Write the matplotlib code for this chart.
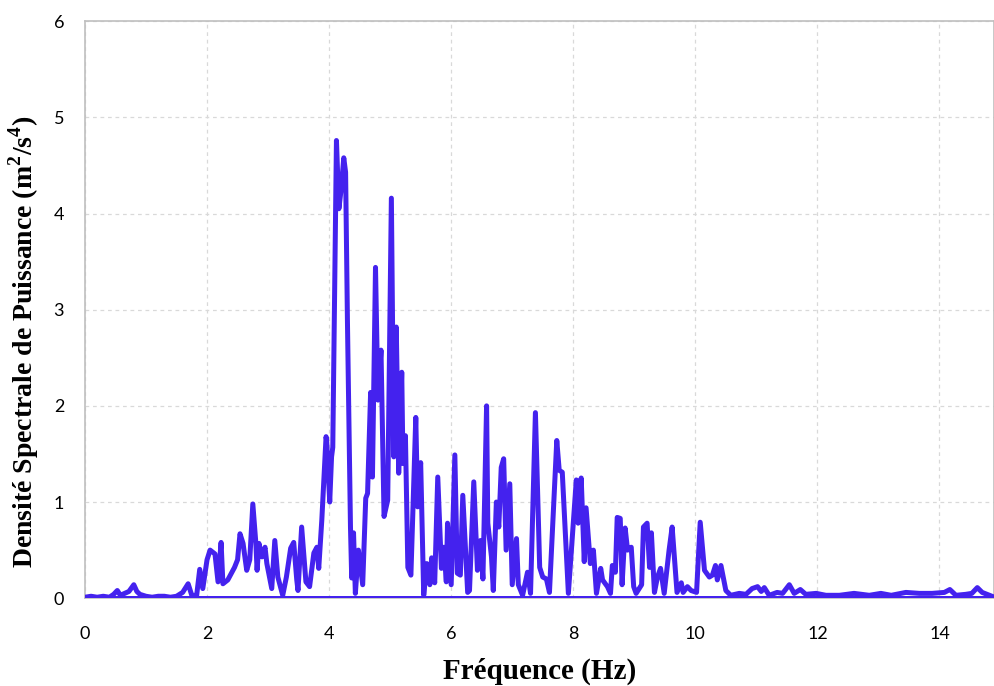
import matplotlib.pyplot as plt

plt.rcParams["mathtext.fontset"] = "custom"
plt.rcParams["mathtext.rm"] = "Liberation Serif:bold"

# spectrum (Hz, m2/s4)
freq = [
    0.00, 0.10, 0.20, 0.30, 0.40, 0.47, 0.53, 0.58, 0.65, 0.72, 0.80, 0.85, 0.90, 1.00,
    1.10, 1.20, 1.30, 1.40, 1.50, 1.60, 1.69, 1.75, 1.83, 1.88, 1.93, 2.00, 2.05, 2.13,
    2.18, 2.23, 2.26, 2.34, 2.45, 2.50, 2.54, 2.59, 2.65, 2.70, 2.75, 2.80, 2.82, 2.85,
    2.90, 2.95, 2.98, 3.06, 3.11, 3.16, 3.24, 3.30, 3.37, 3.42, 3.47, 3.49, 3.55, 3.62,
    3.68, 3.75, 3.80, 3.83, 3.88, 3.95, 3.96, 4.01, 4.04, 4.06, 4.12, 4.16, 4.20, 4.24,
    4.27, 4.30, 4.35, 4.37, 4.40, 4.43, 4.48, 4.55, 4.60, 4.63, 4.68, 4.71, 4.76, 4.80,
    4.85, 4.90, 4.96, 5.02, 5.06, 5.10, 5.14, 5.19, 5.21, 5.25, 5.29, 5.34, 5.42, 5.45,
    5.50, 5.55, 5.60, 5.65, 5.68, 5.73, 5.78, 5.84, 5.88, 5.92, 5.94, 6.00, 6.06, 6.10,
    6.15, 6.19, 6.27, 6.30, 6.37, 6.43, 6.48, 6.52, 6.58, 6.60, 6.66, 6.69, 6.74, 6.78,
    6.82, 6.86, 6.90, 6.96, 7.00, 7.07, 7.10, 7.17, 7.25, 7.30, 7.38, 7.45, 7.50, 7.56,
    7.61, 7.73, 7.77, 7.82, 7.92, 8.05, 8.08, 8.13, 8.18, 8.21, 8.28, 8.33, 8.38, 8.45,
    8.48, 8.56, 8.61, 8.64, 8.69, 8.72, 8.77, 8.80, 8.85, 8.89, 8.95, 8.99, 9.03, 9.12,
    9.15, 9.21, 9.25, 9.28, 9.33, 9.38, 9.43, 9.49, 9.57, 9.62, 9.67, 9.70, 9.77, 9.80,
    9.87, 9.93, 10.02, 10.08, 10.15, 10.23, 10.28, 10.33, 10.36, 10.42, 10.50, 10.58,
    10.72, 10.83, 10.93, 11.02, 11.08, 11.13, 11.21, 11.34, 11.43, 11.54, 11.62, 11.72,
    11.81, 11.98, 12.14, 12.36, 12.60, 12.85, 13.04, 13.21, 13.45, 13.67, 13.88, 14.08,
    14.17, 14.27, 14.43, 14.53, 14.62, 14.70, 14.78, 14.86,
]
psd = [
    0.01, 0.02, 0.01, 0.02, 0.01, 0.04, 0.08, 0.03, 0.05, 0.07, 0.14, 0.07, 0.04, 0.02,
    0.01, 0.02, 0.02, 0.01, 0.02, 0.06, 0.15, 0.03, 0.03, 0.30, 0.10, 0.40, 0.50, 0.46,
    0.17, 0.58, 0.15, 0.19, 0.32, 0.40, 0.67, 0.57, 0.29, 0.40, 0.98, 0.57, 0.29, 0.57,
    0.43, 0.53, 0.36, 0.10, 0.60, 0.22, 0.03, 0.22, 0.52, 0.58, 0.19, 0.08, 0.74, 0.17,
    0.12, 0.47, 0.53, 0.31, 0.81, 1.68, 1.64, 1.00, 1.47, 1.57, 4.76, 4.05, 4.27, 4.58,
    4.43, 2.89, 0.74, 0.21, 0.68, 0.05, 0.50, 0.14, 1.04, 1.09, 2.14, 1.26, 3.44, 2.06,
    2.58, 0.85, 1.02, 4.16, 1.47, 2.82, 1.30, 2.35, 1.40, 1.69, 0.32, 0.24, 1.88, 0.95,
    1.41, 0.03, 0.36, 0.14, 0.42, 0.16, 1.26, 0.31, 0.53, 0.17, 0.78, 0.14, 1.49, 0.26,
    0.24, 1.07, 0.06, 0.08, 1.21, 0.29, 0.60, 0.20, 2.00, 0.78, 0.43, 0.08, 1.00, 0.74,
    1.36, 1.45, 0.50, 1.19, 0.14, 0.62, 0.14, 0.03, 0.27, 0.05, 1.93, 0.32, 0.22, 0.20,
    0.06, 1.64, 1.33, 1.31, 0.05, 1.23, 0.78, 1.25, 0.38, 0.94, 0.36, 0.50, 0.05, 0.31,
    0.19, 0.12, 0.05, 0.34, 0.27, 0.84, 0.83, 0.14, 0.73, 0.50, 0.53, 0.12, 0.05, 0.14,
    0.74, 0.78, 0.32, 0.68, 0.06, 0.22, 0.31, 0.05, 0.50, 0.74, 0.31, 0.06, 0.16, 0.06,
    0.12, 0.08, 0.06, 0.79, 0.29, 0.22, 0.24, 0.34, 0.19, 0.34, 0.08, 0.03,
    0.05, 0.04, 0.10, 0.12, 0.07, 0.11, 0.03, 0.06, 0.05, 0.14, 0.05, 0.09,
    0.04, 0.05, 0.03, 0.03, 0.05, 0.03, 0.05, 0.03, 0.06, 0.05, 0.05, 0.06,
    0.09, 0.03, 0.04, 0.05, 0.11, 0.06, 0.04, 0.02,
]

x_ticks = [0, 2, 4, 6, 8, 10, 12, 14]
y_ticks = [0, 1, 2, 3, 4, 5, 6]

LINE_COLOR = "#4422EE"

fig = plt.figure(figsize=(9.95, 6.86), dpi=100)
ax = fig.add_axes([0.0854, 0.128, 0.914, 0.841])

ax.plot(freq, psd, color=LINE_COLOR, linewidth=3.6, solid_joinstyle="round", zorder=3)
ax.axhline(0, color=LINE_COLOR, linewidth=3.6, zorder=3)

ax.set_xlim(0, 14.9)
ax.set_ylim(0, 6)
ax.set_xticks(x_ticks)
ax.set_yticks(y_ticks)
ax.tick_params(length=0, labelsize=13)
ax.tick_params(axis="x", pad=20)
ax.tick_params(axis="y", pad=15)
for lab in ax.get_xticklabels() + ax.get_yticklabels():
    lab.set_fontfamily("Lato")

ax.grid(True, color="#D9D9D9", linestyle=(0, (3, 3)), linewidth=0.9)
ax.set_axisbelow(True)
for side in ["left", "top", "right", "bottom"]:
    ax.spines[side].set_color("#BFBFBF")
    ax.spines[side].set_linewidth(1.2)

ax.set_xlabel("Fréquence (Hz)", fontfamily="Liberation Serif", fontweight="bold",
              fontsize=21, labelpad=11)
ax.set_ylabel("Densité Spectrale de Puissance (m$^{2}$/s$^{4}$)", fontfamily="Liberation Serif",
              fontweight="bold", fontsize=20)
ax.yaxis.set_label_coords(-0.048, 0.444)

fig.savefig("out.png", dpi=100)
